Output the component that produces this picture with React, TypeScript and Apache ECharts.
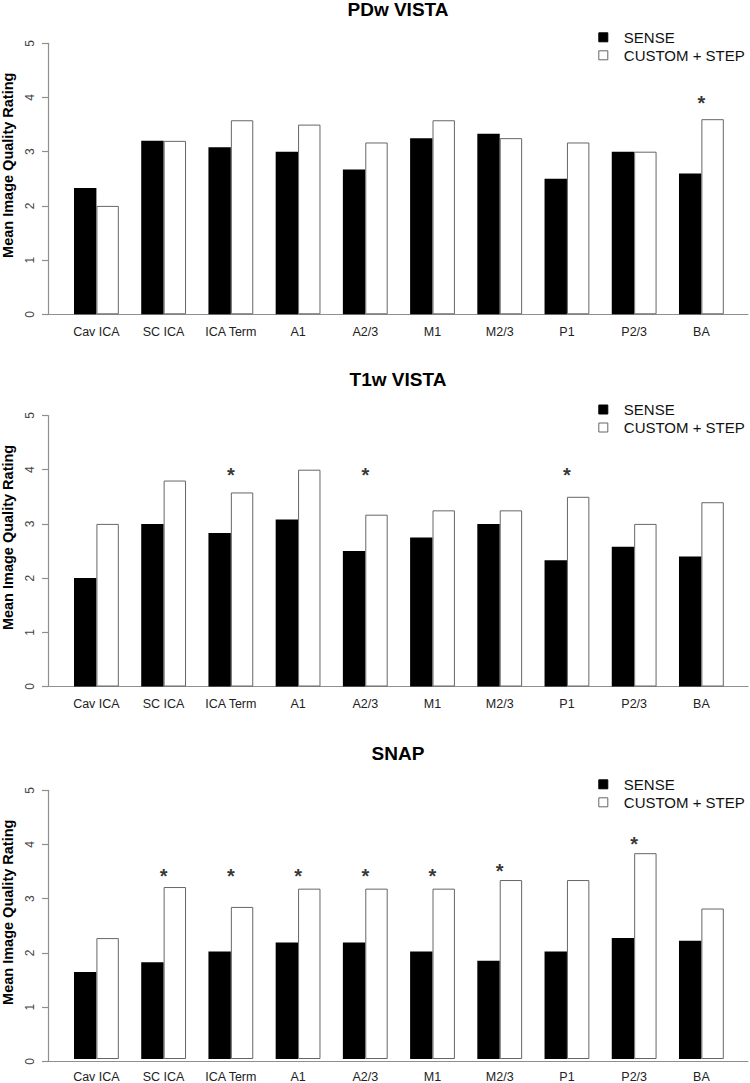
import React, { useEffect, useRef } from "react";
import * as echarts from "echarts";

const categories = ["Cav ICA", "SC ICA", "ICA Term", "A1", "A2/3", "M1", "M2/3", "P1", "P2/3", "BA"];
const panelTitles = ["PDw VISTA", "T1w VISTA", "SNAP"];
const seriesNames = ["SENSE", "CUSTOM + STEP"];
const yTickValues = [0, 1, 2, 3, 4, 5];

const pdwSense = [2.33, 3.2, 3.08, 3.0, 2.67, 3.25, 3.33, 2.5, 3.0, 2.6];
const pdwCustom = [2.0, 3.2, 3.58, 3.5, 3.17, 3.58, 3.25, 3.17, 3.0, 3.6];
const pdwStars = [null, null, null, null, null, null, null, null, null, 4.0];

const t1Sense = [2.0, 3.0, 2.83, 3.08, 2.5, 2.75, 3.0, 2.33, 2.58, 2.4];
const t1Custom = [3.0, 3.8, 3.58, 4.0, 3.17, 3.25, 3.25, 3.5, 3.0, 3.4];
const t1Stars = [null, null, 4.0, null, 4.0, null, null, 4.0, null, null];

const snapSense = [1.62, 1.8, 2.0, 2.17, 2.17, 2.0, 1.83, 2.0, 2.25, 2.2];
const snapCustom = [2.25, 3.2, 2.83, 3.17, 3.17, 3.17, 3.33, 3.33, 3.83, 2.8];
const snapStars = [null, 3.5, 3.5, 3.5, 3.5, 3.5, 3.6, null, 4.1, null];

const panels = [
  { title: panelTitles[0], sense: pdwSense, custom: pdwCustom, stars: pdwStars },
  { title: panelTitles[1], sense: t1Sense, custom: t1Custom, stars: t1Stars },
  { title: panelTitles[2], sense: snapSense, custom: snapCustom, stars: snapStars },
];

// layout (pixels)
const zeroY = [314.3, 686.5, 1061.3];
const unitPx = 54.2;
const yMax = 5;
const plotH = unitPx * yMax;
const barsLeft = 62.8;
const barsWidth = 672.2;
const axisLeft = 48;
const axisWidth = 700;
const FONT = "'Liberation Sans', Arial, Helvetica, sans-serif";
const AXIS_GREY = "#8f8f8f";

function buildOption() {
  const grid: any[] = [];
  const xAxis: any[] = [];
  const yAxis: any[] = [];
  const series: any[] = [];
  const title: any[] = [];
  const legend: any[] = [];
  const graphic: any[] = [];

  panels.forEach((p, i) => {
    const top = zeroY[i] - plotH;
    const gBars = i * 2;
    const gAxes = i * 2 + 1;
    grid.push({ left: barsLeft, top, width: barsWidth, height: plotH });
    grid.push({ left: axisLeft, top, width: axisWidth, height: plotH });

    xAxis.push({
      type: "category",
      gridIndex: gBars,
      data: categories,
      axisLine: { show: false },
      axisTick: { show: false },
      axisLabel: { interval: 0, margin: 11, fontSize: 12.5, color: "#222", fontFamily: FONT },
    });
    xAxis.push({
      type: "value",
      gridIndex: gAxes,
      min: 0,
      max: 1,
      axisLine: { show: true, lineStyle: { color: AXIS_GREY, width: 1.2 } },
      axisTick: { show: false },
      axisLabel: { show: false },
      splitLine: { show: false },
    });
    yAxis.push({
      type: "value",
      gridIndex: gBars,
      min: 0,
      max: yMax,
      show: false,
    });
    yAxis.push({
      type: "value",
      gridIndex: gAxes,
      min: 0,
      max: yMax,
      interval: 1,
      axisLine: { show: true, lineStyle: { color: AXIS_GREY, width: 1.2 } },
      axisTick: { show: true, length: 6, lineStyle: { color: AXIS_GREY, width: 1.2 } },
      axisLabel: {
        rotate: 90,
        margin: 12,
        fontSize: 12,
        color: "#444",
        fontFamily: FONT,
        formatter: (v: number) => (yTickValues.includes(v) ? String(v) : ""),
      },
      splitLine: { show: false },
    });

    series.push({
      name: seriesNames[0],
      type: "bar",
      xAxisIndex: gBars,
      yAxisIndex: gBars,
      data: p.sense,
      barGap: "0%",
      barCategoryGap: "33.33%",
      itemStyle: { color: "#000000", borderColor: "#000000", borderWidth: 0 },
    });
    series.push({
      name: seriesNames[1],
      type: "bar",
      xAxisIndex: gBars,
      yAxisIndex: gBars,
      data: p.custom,
      barGap: "0%",
      barCategoryGap: "33.33%",
      itemStyle: { color: "#ffffff", borderColor: "#666666", borderWidth: 1 },
    });
    series.push({
      name: "significance",
      type: "scatter",
      xAxisIndex: gBars,
      yAxisIndex: gBars,
      data: p.stars.map((v) => (v == null ? "-" : v)),
      symbolSize: 0,
      silent: true,
      label: {
        show: true,
        position: "inside",
        formatter: "*",
        fontSize: 20,
        fontWeight: "bold",
        color: "#000",
        fontFamily: FONT,
        offset: [0, 5],
      },
    });

    title.push({
      text: p.title,
      left: 398,
      top: Math.max(0, top - 35 - 11),
      textAlign: "center",
      padding: 0,
      textStyle: { fontSize: 19, fontWeight: "bold", color: "#000", fontFamily: FONT },
    });

    legend.push({
      data: seriesNames,
      orient: "vertical",
      left: 598.3,
      top: top - 6 - 9,
      itemWidth: 9,
      itemHeight: 9,
      itemGap: 0,
      icon: "rect",
      selectedMode: false,
      padding: 0,
      itemStyle: { borderWidth: 1 },
      textStyle: { fontSize: 15, color: "#111", fontFamily: FONT, lineHeight: 18, padding: [0, 0, 0, 11] },
    });

    graphic.push({
      type: "text",
      x: 7.5,
      y: zeroY[i] - 2.75 * unitPx,
      rotation: Math.PI / 2,
      style: {
        text: "Mean Image Quality Rating",
        font: `bold 14.5px ${FONT}`,
        fill: "#000",
        textAlign: "center",
        textVerticalAlign: "middle",
      },
    });
  });

  return {
    animation: false,
    backgroundColor: "#ffffff",
    textStyle: { fontFamily: FONT },
    title,
    legend,
    grid,
    xAxis,
    yAxis,
    series,
    graphic,
  };
}

export default function App() {
  const ref = useRef<HTMLDivElement>(null);
  useEffect(() => {
    if (!ref.current) return;
    const chart = echarts.init(ref.current, undefined, { renderer: "svg" });
    chart.setOption(buildOption() as any);
    return () => chart.dispose();
  }, []);
  return (
    <div
      ref={ref}
      style={{ position: "fixed", top: 0, left: 0, width: 750, height: 1083, background: "#fff" }}
    />
  );
}
